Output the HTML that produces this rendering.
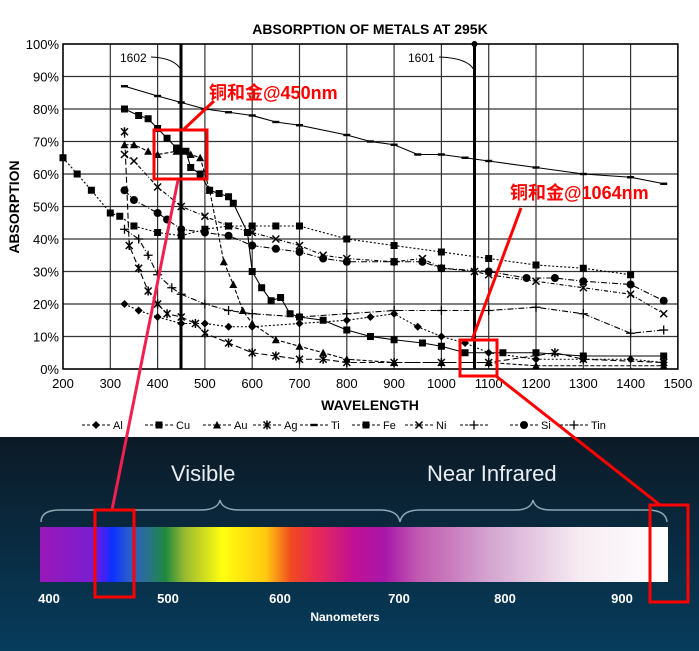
<!DOCTYPE html>
<html><head><meta charset="utf-8"><style>
body{margin:0;width:699px;height:651px;overflow:hidden;background:#fff;font-family:"Liberation Sans",sans-serif}
</style></head><body>
<svg id="s" width="699" height="651" xmlns="http://www.w3.org/2000/svg" style="position:absolute;left:0;top:0">
<defs>
<linearGradient id="bg" x1="0" y1="0" x2="0" y2="1"><stop offset="0" stop-color="#0c1a26"/><stop offset="1" stop-color="#063c5c"/></linearGradient>
<linearGradient id="sp" x1="0" y1="0" x2="1" y2="0">
<stop offset="0" stop-color="#9a18b8"/><stop offset="0.08" stop-color="#7a1ed0"/><stop offset="0.1" stop-color="#4a20f0"/><stop offset="0.115" stop-color="#0a30ff"/><stop offset="0.14" stop-color="#2a5ad0"/><stop offset="0.17" stop-color="#2a7090"/><stop offset="0.2" stop-color="#1f8a40"/><stop offset="0.23" stop-color="#98b830"/><stop offset="0.29" stop-color="#ffff10"/><stop offset="0.36" stop-color="#ffc810"/><stop offset="0.4" stop-color="#f04a20"/><stop offset="0.44" stop-color="#e82a55"/><stop offset="0.5" stop-color="#c01095"/><stop offset="0.55" stop-color="#a818a8"/><stop offset="0.6" stop-color="#c058b0"/><stop offset="0.72" stop-color="#d4a8d0"/><stop offset="0.86" stop-color="#f6ecf2"/><stop offset="1" stop-color="#ffffff"/></linearGradient>
</defs>
<g id="grid"></g>
<g id="ser"></g>
<text x="370" y="34" text-anchor="middle" font-size="14" font-weight="bold">ABSORPTION OF METALS AT 295K</text>
<text x="370" y="410" text-anchor="middle" font-size="14" font-weight="bold">WAVELENGTH</text>
<text transform="translate(19,207) rotate(-90)" text-anchor="middle" font-size="14" font-weight="bold">ABSORPTION</text>
<line x1="181" y1="44" x2="181" y2="369" stroke="#000" stroke-width="3"/>
<line x1="474.5" y1="44" x2="474.5" y2="369" stroke="#000" stroke-width="3"/>
<circle cx="474.5" cy="44" r="3"/>
<text x="120" y="62" font-size="12">1602</text><path d="M151,57 Q175,58 181,70" fill="none" stroke="#000"/>
<text x="408" y="62" font-size="12">1601</text><path d="M439,57 Q468,58 474,70" fill="none" stroke="#000"/>
<rect x="0" y="437" width="699" height="214" fill="url(#bg)"/>
<rect x="40" y="527" width="628" height="55" style="fill:url(#sp)"/>
<g fill="none" stroke="#8fa6b4" stroke-width="1.5">
<path d="M41,522 Q41,510 60,510 L200,510 Q218,510 220,500 Q222,510 240,510 L380,510 Q398,510 400,522"/>
<path d="M400,522 Q402,510 420,510 L515,510 Q531,510 533,500 Q535,510 551,510 L647,510 Q666,510 667,522"/>
</g>
<g fill="#e8eef2" font-size="22"><text x="171" y="481">Visible</text><text x="427" y="481">Near Infrared</text></g>
<g fill="#fff" font-size="13" font-weight="bold" text-anchor="middle"><text x="49" y="603">400</text><text x="168" y="603">500</text><text x="280" y="603">600</text><text x="399" y="603">700</text><text x="505" y="603">800</text><text x="622" y="603">900</text><text x="345" y="621" font-size="12">Nanometers</text></g>
<g fill="none" stroke="#f00" stroke-width="3">
<rect x="154" y="130" width="53" height="49"/><line x1="183" y1="130" x2="214" y2="101"/>
<line x1="178" y1="180" x2="112" y2="510" stroke="#f02050"/>
<rect x="95" y="510" width="39" height="87"/>
<rect x="460" y="340" width="37" height="36"/><line x1="472" y1="340" x2="521" y2="208"/>
<line x1="496" y1="376" x2="660" y2="505"/>
<rect x="650" y="505" width="38" height="97"/>
</g>
<g fill="#f00" font-size="18" font-weight="bold" font-family="'Liberation Sans','Noto Sans CJK SC',sans-serif"><text x="209" y="99">铜和金@450nm</text><text x="510" y="199">铜和金@1064nm</text></g>
<g id="leg" font-size="11"></g>
</svg>
<script>
var NS="http://www.w3.org/2000/svg";
function X(w){return 63+(w-200)*0.473}function Y(p){return 369-p*3.25}
function el(p,t,a){var e=document.createElementNS(NS,t);for(var k in a)e.setAttribute(k,a[k]);p.appendChild(e);return e}
var g=document.getElementById('grid');
for(var w=200;w<=1500;w+=100){el(g,'line',{x1:X(w),y1:44,x2:X(w),y2:369,stroke:'#333','stroke-width':1.2});var t=el(g,'text',{x:X(w),y:388,'text-anchor':'middle','font-size':13});t.textContent=w}
for(var p=0;p<=100;p+=10){el(g,'line',{x1:63,y1:Y(p),x2:X(1500),y2:Y(p),stroke:'#333','stroke-width':1.2});var t=el(g,'text',{x:59,y:Y(p)+5,'text-anchor':'end','font-size':13});t.textContent=p+'%'}
el(g,'rect',{x:63,y:44,width:X(1500)-63,height:325,fill:'none',stroke:'#000','stroke-width':1.5});
function mk(p,m,x,y){
if(m=='sq')el(p,'rect',{x:x-3.5,y:y-3.5,width:7,height:7});
else if(m=='dash')el(p,'rect',{x:x-3.5,y:y-1.2,width:7,height:2.4});
else if(m=='tri')el(p,'polygon',{points:(x-4)+','+(y+3.5)+' '+(x+4)+','+(y+3.5)+' '+x+','+(y-4)});
else if(m=='ci')el(p,'circle',{cx:x,cy:y,r:4});
else if(m=='di')el(p,'polygon',{points:x+','+(y-4)+' '+(x+4)+','+y+' '+x+','+(y+4)+' '+(x-4)+','+y});
else if(m=='x'){el(p,'path',{d:'M'+(x-3.5)+','+(y-3.5)+'L'+(x+3.5)+','+(y+3.5)+'M'+(x+3.5)+','+(y-3.5)+'L'+(x-3.5)+','+(y+3.5),stroke:'#000','stroke-width':1.5})}
else if(m=='pl'){el(p,'path',{d:'M'+(x-4.5)+','+y+'L'+(x+4.5)+','+y+'M'+x+','+(y-4.5)+'L'+x+','+(y+4.5),stroke:'#000','stroke-width':1.3})}
else if(m=='ast'){el(p,'path',{d:'M'+(x-3.5)+','+(y-3.5)+'L'+(x+3.5)+','+(y+3.5)+'M'+(x+3.5)+','+(y-3.5)+'L'+(x-3.5)+','+(y+3.5)+'M'+x+','+(y-4.5)+'L'+x+','+(y+4.5),stroke:'#000','stroke-width':1.5})}}
var S=[
['dash','',[[330,87],[400,84],[450,82],[500,80],[550,79],[600,78],[650,76],[700,75],[800,72],[850,70],[900,69],[950,66],[1000,66],[1050,65],[1100,64],[1200,62],[1300,60],[1400,59],[1470,57]]],
['sq','',[[330,80],[360,78],[380,77],[400,74],[420,71],[440,68],[460,67],[470,62],[490,60],[510,55],[530,54],[550,53],[560,51],[590,42],[600,30],[620,25],[640,21],[660,22],[680,17],[700,16],[750,15],[800,12],[850,10],[900,9],[960,8],[1000,7],[1050,5],[1130,5],[1200,5],[1300,4],[1470,4]]],
['tri','4,2',[[330,69],[350,69],[380,67],[400,66],[440,67],[470,66],[490,65],[510,55],[540,33],[560,26],[580,18],[600,14],[650,9],[700,7],[750,5],[800,3],[900,2],[1000,2],[1100,2],[1200,1],[1470,1]]],
['ast','6,3',[[330,73],[340,38],[360,31],[380,24],[400,20],[420,17],[450,16],[480,14],[500,11],[550,8],[600,5],[650,4],[700,3],[750,3],[800,2],[900,2],[1000,2],[1100,2],[1240,5],[1300,3],[1470,2]]],
['sq','2,2',[[200,65],[230,60],[260,55],[300,48],[320,47],[350,44],[400,42],[450,41],[500,43],[550,44],[600,44],[650,44],[700,44],[800,40],[900,38],[1000,36],[1100,34],[1200,32],[1300,31],[1400,29]]],
['x','4,2,1,2',[[330,66],[350,64],[400,56],[450,50],[500,47],[550,44],[600,42],[650,40],[700,38],[750,35],[800,34],[900,33],[960,34],[1000,31],[1070,30],[1100,29],[1200,27],[1300,25],[1400,23],[1470,17]]],
['ci','6,2,1,2',[[330,55],[350,52],[400,48],[420,46],[450,43],[500,42],[550,41],[600,38],[650,37],[700,36],[750,34],[800,33],[900,33],[960,33],[1000,31],[1100,30],[1180,28],[1240,28],[1300,27],[1400,26],[1470,21]]],
['pl','6,2,1,2',[[330,43],[360,40],[380,35],[400,29],[430,25],[450,23],[500,20],[550,18],[600,17],[700,16],[800,17],[900,18],[1000,18],[1100,18],[1200,19],[1300,17],[1400,11],[1470,12]]],
['di','2,2',[[330,20],[360,18],[400,16],[450,14],[500,14],[550,13],[600,13],[700,14],[800,15],[850,16],[900,17],[950,13],[1000,10],[1050,8],[1100,5],[1200,3],[1300,3],[1400,3],[1470,2]]]];
var sg=document.getElementById('ser');
S.forEach(function(s){var pts=s[2].map(function(q){return X(q[0])+','+Y(q[1])}).join(' ');
var a={points:pts,fill:'none',stroke:'#000','stroke-width':1.1};if(s[1])a['stroke-dasharray']=s[1];el(sg,'polyline',a);
s[2].forEach(function(q){mk(sg,s[0],X(q[0]),Y(q[1]))})});
var L=[['di','Al',82],['sq','Cu',145],['tri','Au',203],['ast','Ag',253],['dash','Ti',300],['sq','Fe',352],['x','Ni',405],['pl','',460],['ci','Si',510],['pl','Tin',560]];
var lg=document.getElementById('leg');
L.forEach(function(l){el(lg,'line',{x1:l[2],y1:425,x2:l[2]+28,y2:425,stroke:'#000','stroke-dasharray':'3,2'});mk(lg,l[0],l[2]+14,425);var t=el(lg,'text',{x:l[2]+31,y:429});t.textContent=l[1]});
</script>
</body></html>
